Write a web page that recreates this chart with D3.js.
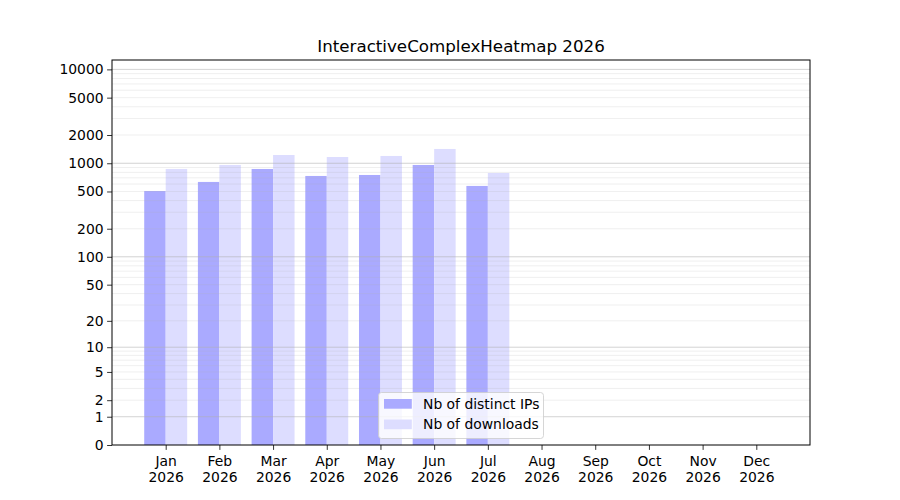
<!DOCTYPE html>
<html>
<head>
<meta charset="utf-8">
<script src="https://cdn.jsdelivr.net/npm/d3@7"></script>
<style>
  body { margin: 0; background: #fff; }
  svg text { font-family: "DejaVu Sans", sans-serif; fill: #000; }
</style>
</head>
<body>
<div id="chart"></div>
<script>
const months = ["Jan", "Feb", "Mar", "Apr", "May", "Jun", "Jul", "Aug", "Sep", "Oct", "Nov", "Dec"];
const year = "2026";
const distinctIPs = [506, 632, 869, 732, 750, 959, 573];
const downloads = [869, 959, 1225, 1166, 1196, 1420, 788];
const yTicks = [0, 1, 2, 5, 10, 20, 50, 100, 200, 500, 1000, 2000, 5000, 10000];
const seriesNames = ["Nb of distinct IPs", "Nb of downloads"];
const seriesColors = ["#aaaaff", "#ddddff"];

const W = 900, H = 500;
const margin = { top: 60, right: 90, bottom: 55, left: 112 };
const width = W - margin.left - margin.right;
const height = H - margin.top - margin.bottom;

const svg = d3.select("#chart")
  .append("svg")
  .attr("width", W)
  .attr("height", H);

const g = svg.append("g")
  .attr("transform", `translate(${margin.left},${margin.top})`);

const x = d3.scaleLinear().domain([-1, 12]).range([0, width]);
const y = d3.scaleSymlog().constant(1).domain([0, Math.pow(10, 4.1)]).range([height, 0]);

// bars
const barW = x(0.4) - x(0);
[distinctIPs, downloads].forEach((vals, s) => {
  g.append("g").selectAll("rect")
    .data(vals)
    .enter()
    .append("rect")
    .attr("x", (d, i) => x(i + (s === 0 ? -0.4 : 0)))
    .attr("y", d => y(d))
    .attr("width", barW)
    .attr("height", d => y(0) - y(d))
    .style("fill", seriesColors[s]);
});

// grid: minor then major
const minor = [];
for (let e = 0; e <= 4; e++) {
  for (let m = 2; m <= 9; m++) {
    const v = m * Math.pow(10, e);
    if (v <= y.domain()[1]) minor.push(v);
  }
}
const major = [1, 10, 100, 1000, 10000];
g.append("g").selectAll("line")
  .data(minor)
  .enter()
  .append("line")
  .attr("x1", 0).attr("x2", width)
  .attr("y1", d => y(d)).attr("y2", d => y(d))
  .style("stroke", "#b0b0b0")
  .style("stroke-opacity", 0.25)
  .style("stroke-width", 0.8);
g.append("g").selectAll("line")
  .data(major)
  .enter()
  .append("line")
  .attr("x1", 0).attr("x2", width)
  .attr("y1", d => y(d)).attr("y2", d => y(d))
  .style("stroke", "#b0b0b0")
  .style("stroke-opacity", 0.7)
  .style("stroke-width", 0.8);

// axes
const yAxis = g.append("g")
  .call(d3.axisLeft(y).tickValues(yTicks).tickFormat(d3.format("d")).tickSize(4.9).tickPadding(3.5));
yAxis.select(".domain").remove();
yAxis.selectAll("text").style("font-size", "13.9px");
yAxis.selectAll("line").style("stroke-width", 0.8);

const xAxis = g.append("g")
  .attr("transform", `translate(0,${height})`)
  .call(d3.axisBottom(x).tickValues(d3.range(months.length)).tickFormat("").tickSize(4.9));
xAxis.select(".domain").remove();
xAxis.selectAll("line").style("stroke-width", 0.8);
xAxis.selectAll(".tick").append("text")
  .attr("text-anchor", "middle")
  .style("font-size", "13.9px")
  .selectAll("tspan")
  .data((d, i) => [months[i], year])
  .enter()
  .append("tspan")
  .attr("x", 0)
  .attr("y", (d, j) => 21 + j * 16)
  .text(d => d);

// frame
g.append("rect")
  .attr("width", width).attr("height", height)
  .style("fill", "none")
  .style("stroke", "#000")
  .style("stroke-width", 1);

// title
svg.append("text")
  .attr("x", margin.left + width / 2)
  .attr("y", 52)
  .attr("text-anchor", "middle")
  .style("font-size", "16.7px")
  .text(`InteractiveComplexHeatmap ${year}`);

// legend
const leg = svg.append("g").attr("transform", "translate(378.5,392.5)");
leg.append("rect")
  .attr("width", 165).attr("height", 46)
  .attr("rx", 3)
  .style("fill", "#fff").style("fill-opacity", 0.8)
  .style("stroke", "#cccccc").style("stroke-width", 0.8);
seriesNames.forEach((name, i) => {
  leg.append("rect")
    .attr("x", 5.5).attr("y", 6.5 + i * 20.5)
    .attr("width", 27.8).attr("height", 9.7)
    .style("fill", seriesColors[i]);
  leg.append("text")
    .attr("x", 44.5).attr("y", 16 + i * 20.5)
    .style("font-size", "13.9px")
    .text(name);
});
</script>
</body>
</html>
